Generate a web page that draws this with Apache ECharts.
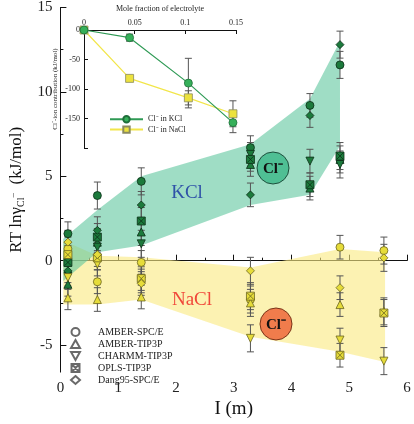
<!DOCTYPE html>
<html>
<head>
<meta charset="utf-8">
<script src="https://cdn.jsdelivr.net/npm/echarts@6/dist/echarts.min.js"></script>
<style>
  html, body { margin: 0; padding: 0; background: #fff; }
  #chart { width: 414px; height: 424px; }
</style>
</head>
<body>
<div id="chart"></div>
<script>
// main plot: ionic strength (m) vs RT ln gamma(Cl-)
const kclX = [0.13, 0.64, 1.40, 3.29, 4.32, 4.84]
const kclAmberSpce = [1.6, 3.86, 4.7, 6.7, 9.2, 11.6]
const kclAmberTip3p = [-1.4, 1.1, 1.7, 5.7, 4.3, 6.0]
const kclCharmm = [-0.9, 0.8, 1.0, 6.3, 5.9, 5.7]
const kclOpls = [-0.1, 1.4, 2.35, 6.0, 4.5, 6.2]
const kclDang = [-0.6, 1.8, 3.3, 3.9, 8.6, 12.8]
const kclErr = [0.7, 0.8, 0.8, 0.7, 0.7, 0.8]

const naclX = [0.13, 0.64, 1.40, 3.29, 4.84, 5.60]
const naclAmberSpce = [0.7, -1.25, -0.1, -2.3, 0.8, 0.6]
const naclAmberTip3p = [-2.2, -2.3, -2.15, -2.5, -2.6, -3.0]
const naclCharmm = [-1.0, -0.2, -1.2, -4.6, -4.7, -5.95]
const naclOpls = [0.36, 0.17, -1.06, -2.1, -5.6, -3.1]
const naclDang = [1.1, 0.36, -1.35, -0.6, -1.6, 0.17]
const naclErr = [0.7, 0.7, 0.7, 0.8, 0.7, 0.8]

// shaded bands [I, value]
const kclBandTop = [[0.05, 1.3], [0.64, 3.0], [1.40, 5.0], [3.29, 6.9], [4.32, 9.6], [4.84, 13.0]]
const kclBandBottom = [[0.05, -1.2], [0.64, 0.5], [1.40, 0.9], [3.29, 3.3], [4.32, 3.9], [4.84, 6.8]]
const naclBandTop = [[0.05, 1.2], [0.64, 0.3], [1.40, 0.2], [3.29, -0.4], [4.84, 0.7], [5.62, 0.5]]
const naclBandBottom = [[0.05, -2.6], [0.64, -2.6], [1.40, -2.3], [3.29, -4.5], [4.84, -5.4], [5.62, -6.0]]

// axis ticks
const yMajorTicks = [-5, 0, 5, 10, 15]
const yMinorTicks = [-2.5, 2.5, 7.5, 12.5]

// inset: mole fraction vs Cl- ion contribution
const insetX = [0, 0.045, 0.103, 0.147]
const insetKcl = [0, -13, -90, -157]
const insetKclErr = [0, 6, 42, 17]
const insetNacl = [0, -82, -115, -142]
const insetNaclErr = [0, 5, 12, 22]
const insetYLabels = [-150, -100, -50, 0]

const ffNames = ['AMBER-SPC/E', 'AMBER-TIP3P', 'CHARMM-TIP3P', 'OPLS-TIP3P', 'Dang95-SPC/E']
const ffSymbols = [
  'circle',
  'triangle',
  'path://M0,0H10L5,9Z',
  'path://M0,0H10V10H0Z M1,1L9,9 M9,1L1,9',
  'diamond'
]

const SERIF = 'Liberation Serif, Times New Roman, serif'

function errRender (params, api) {
  const x = api.value(0)
  const lo = api.coord([x, api.value(1)])
  const hi = api.coord([x, api.value(2)])
  const cw = 3.5
  const style = { stroke: '#555', lineWidth: 1 }
  return {
    type: 'group',
    children: [
      { type: 'line', shape: { x1: lo[0], y1: lo[1], x2: hi[0], y2: hi[1] }, style },
      { type: 'line', shape: { x1: lo[0] - cw, y1: lo[1], x2: lo[0] + cw, y2: lo[1] }, style },
      { type: 'line', shape: { x1: hi[0] - cw, y1: hi[1], x2: hi[0] + cw, y2: hi[1] }, style }
    ]
  }
}

function errSeries (xs, ys, errs, xi, yi) {
  return {
    type: 'custom',
    xAxisIndex: xi,
    yAxisIndex: yi,
    silent: true,
    z: 2,
    renderItem: errRender,
    encode: { x: 0, y: [1, 2] },
    data: xs.map((x, i) => [x, ys[i] - errs[i], ys[i] + errs[i]])
  }
}

function bandSeries (top, bottom, color) {
  return {
    type: 'custom',
    silent: true,
    z: 1,
    encode: { x: 0, y: 1 },
    data: [[1, 0]],
    renderItem: function (params, api) {
      const pts = top.concat(bottom.slice().reverse()).map(p => api.coord(p))
      return { type: 'polygon', shape: { points: pts }, style: { fill: color } }
    }
  }
}

function markerSeries (xs, ys, k, fill, border) {
  return {
    type: 'scatter',
    silent: true,
    z: 3,
    symbol: ffSymbols[k],
    symbolSize: 8,
    itemStyle: { color: fill, borderColor: border, borderWidth: 0.8, opacity: 1 },
    data: xs.map((x, i) => [x, ys[i]])
  }
}

const kclSets = [kclAmberSpce, kclAmberTip3p, kclCharmm, kclOpls, kclDang]
const naclSets = [naclAmberSpce, naclAmberTip3p, naclCharmm, naclOpls, naclDang]

const series = [
  bandSeries(naclBandTop, naclBandBottom, 'rgba(250,234,130,0.62)'),
  bandSeries(kclBandTop, kclBandBottom, 'rgba(95,198,158,0.6)')
]
kclSets.forEach(ys => series.push(errSeries(kclX, ys, kclErr, 0, 0)))
naclSets.forEach(ys => series.push(errSeries(naclX, ys, naclErr, 0, 0)))
kclSets.forEach((ys, k) => series.push(markerSeries(kclX, ys, k, '#1c7a3c', '#0b2e16')))
naclSets.forEach((ys, k) => series.push(markerSeries(naclX, ys, k, '#e6dc3a', '#6b6420')))

// legend-only series for the force fields
ffNames.forEach((name, k) => {
  series.push({
    type: 'scatter',
    name: name,
    symbol: ffSymbols[k],
    itemStyle: { color: '#fff', borderColor: '#444', borderWidth: 0.8 },
    data: []
  })
})

// inset
series.push(errSeries(insetX, insetKcl, insetKclErr, 1, 2))
series.push(errSeries(insetX, insetNacl, insetNaclErr, 1, 2))
series.push({
  type: 'line',
  name: 'Cl\u207B in NaCl',
  xAxisIndex: 1,
  yAxisIndex: 2,
  z: 3,
  symbol: 'rect',
  symbolSize: 8,
  showSymbol: true,
  lineStyle: { color: '#f2e64a', width: 1.2 },
  itemStyle: { color: '#ece23e', borderColor: '#8a8a60', borderWidth: 0.8 },
  data: insetX.map((x, i) => [x, insetNacl[i]])
})
series.push({
  type: 'line',
  name: 'Cl\u207B in KCl',
  xAxisIndex: 1,
  yAxisIndex: 2,
  z: 4,
  symbol: 'circle',
  symbolSize: 8,
  showSymbol: true,
  lineStyle: { color: '#2f9a55', width: 1.2 },
  itemStyle: { color: '#36b05a', borderColor: '#1f6e3a', borderWidth: 0.8 },
  data: insetX.map((x, i) => [x, insetKcl[i]])
})

const axisLine = { show: true, lineStyle: { color: '#111', width: 1 } }

const option = {
  animation: false,
  backgroundColor: '#fff',
  textStyle: { fontFamily: SERIF },
  grid: [
    { left: 43, right: 7, top: 4, bottom: 40 },
    { left: 84, top: 30, width: 152, height: 118 }
  ],
  xAxis: [
    {
      gridIndex: 0,
      type: 'value',
      min: 0,
      max: 6,
      interval: 1,
      name: 'I (m)',
      nameLocation: 'middle',
      nameGap: 20,
      nameTextStyle: { fontFamily: SERIF, fontSize: 19, color: '#111', verticalAlign: 'top' },
      axisLine: axisLine,
      axisTick: { inside: true, length: 6, lineStyle: { color: '#111' } },
      minorTick: { show: true, splitNumber: 2, length: 3, lineStyle: { color: '#111' } },
      axisLabel: { fontFamily: SERIF, fontSize: 15, color: '#222', margin: 8 },
      splitLine: { show: false }
    },
    {
      gridIndex: 1,
      type: 'value',
      position: 'top',
      min: 0,
      max: 0.15,
      interval: 0.05,
      name: 'Mole fraction of electrolyte',
      nameLocation: 'middle',
      nameGap: 17,
      nameTextStyle: { fontFamily: SERIF, fontSize: 8, color: '#222' },
      axisLine: axisLine,
      axisTick: { inside: true, length: 4, lineStyle: { color: '#111' } },
      axisLabel: { fontFamily: SERIF, fontSize: 8, color: '#222', margin: 3 },
      splitLine: { show: false }
    }
  ],
  yAxis: [
    {
      gridIndex: 0,
      type: 'value',
      min: -6.6,
      max: 15,
      name: '{a|RT ln\u03B3}{sub|Cl}{sup|\u2013}{a|  (kJ/mol)}',
      nameLocation: 'middle',
      nameGap: 24,
      nameTextStyle: {
        color: '#111',
        rich: {
          a: { fontFamily: SERIF, fontSize: 17, color: '#111' },
          sub: { fontFamily: SERIF, fontSize: 10, color: '#111', padding: [10, 0, 0, 0] },
          sup: { fontFamily: SERIF, fontSize: 9, color: '#111', padding: [0, 0, 8, 0] }
        }
      },
      axisLine: axisLine,
      axisTick: { inside: true, length: 6, customValues: yMajorTicks, lineStyle: { color: '#111' } },
      axisLabel: { fontFamily: SERIF, fontSize: 15, color: '#222', margin: 8, customValues: yMajorTicks },
      splitLine: { show: false }
    },
    {
      gridIndex: 0,
      type: 'value',
      position: 'left',
      min: -6.6,
      max: 15,
      axisLine: { show: false },
      axisTick: { show: true, inside: true, length: 3, customValues: yMinorTicks, lineStyle: { color: '#111' } },
      axisLabel: { show: false },
      splitLine: { show: false }
    },
    {
      gridIndex: 1,
      type: 'value',
      min: -200,
      max: 0,
      interval: 50,
      name: 'Cl\u207B-ion contribution (kJ/mol)',
      nameLocation: 'middle',
      nameGap: 25,
      nameTextStyle: { fontFamily: SERIF, fontSize: 7, color: '#222' },
      axisLine: axisLine,
      axisTick: { inside: true, length: 4, lineStyle: { color: '#111' } },
      axisLabel: { fontFamily: SERIF, fontSize: 8, color: '#222', margin: 4, customValues: insetYLabels },
      splitLine: { show: false }
    }
  ],
  legend: [
    {
      data: ['Cl\u207B in KCl', 'Cl\u207B in NaCl'],
      orient: 'vertical',
      left: 104,
      top: 110,
      itemWidth: 33,
      itemHeight: 8,
      itemGap: 2,
      selectedMode: false,
      textStyle: { fontFamily: SERIF, fontSize: 8, color: '#222' }
    },
    {
      data: ffNames,
      orient: 'vertical',
      left: 65,
      top: 322,
      itemWidth: 9,
      itemHeight: 8,
      itemGap: 2,
      selectedMode: false,
      textStyle: { fontFamily: SERIF, fontSize: 10, color: '#222', padding: [0, 0, 0, 13] }
    }
  ],
  graphic: [
    { type: 'text', z: 100, x: 187, y: 193, style: { text: 'KCl', fill: '#2f52a8', font: '19px ' + SERIF, align: 'center', verticalAlign: 'middle' } },
    { type: 'text', z: 100, x: 192, y: 300, style: { text: 'NaCl', fill: '#f0473a', font: '19px ' + SERIF, align: 'center', verticalAlign: 'middle' } },
    { type: 'circle', z: 100, shape: { cx: 273, cy: 168, r: 16 }, style: { fill: '#4fbf94', stroke: '#1d4f3c', lineWidth: 1 } },
    { type: 'text', z: 101, x: 273, y: 169, style: { text: 'Cl\u207B', fill: '#111', font: 'bold 15px ' + SERIF, align: 'center', verticalAlign: 'middle' } },
    { type: 'circle', z: 100, shape: { cx: 276, cy: 324, r: 16 }, style: { fill: '#f07c4c', stroke: '#7a3418', lineWidth: 1 } },
    { type: 'text', z: 101, x: 276, y: 325, style: { text: 'Cl\u207B', fill: '#111', font: 'bold 15px ' + SERIF, align: 'center', verticalAlign: 'middle' } }
  ],
  series: series
}

const chart = echarts.init(document.getElementById('chart'))
chart.setOption(option)
</script>
</body>
</html>
